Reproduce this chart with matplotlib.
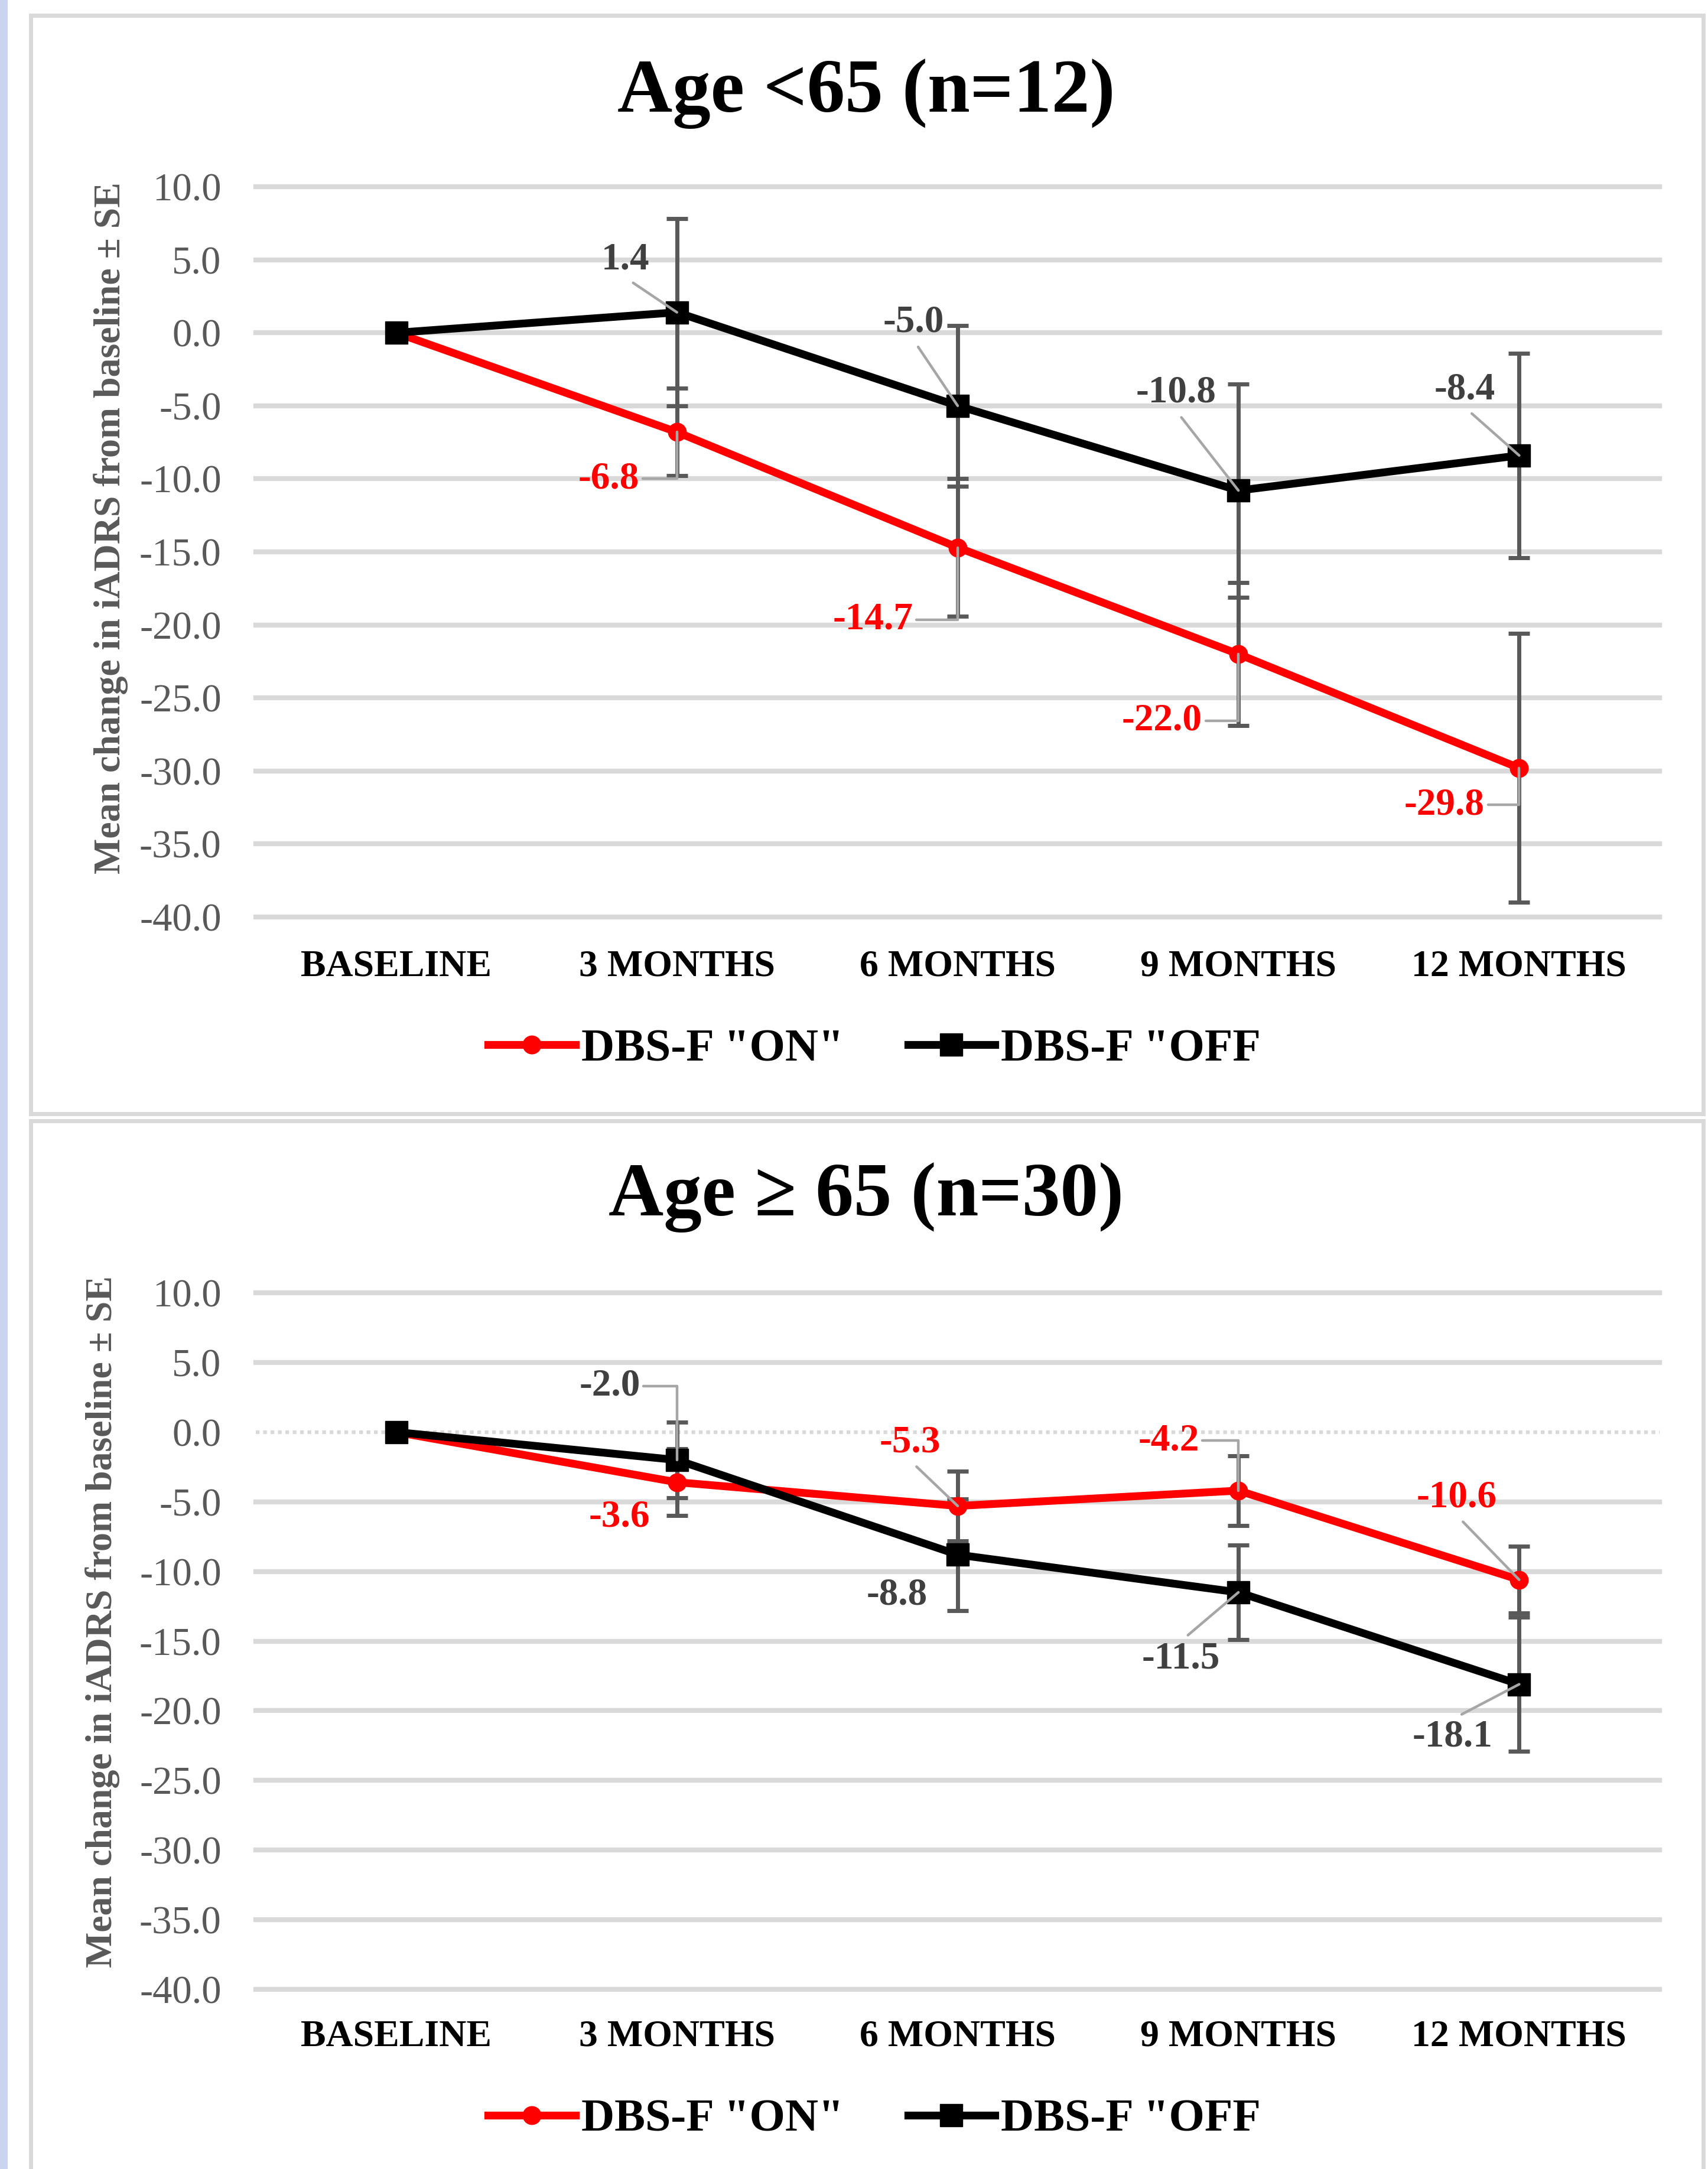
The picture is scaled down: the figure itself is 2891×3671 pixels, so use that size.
import numpy as np
import matplotlib.pyplot as plt
from matplotlib.patches import Rectangle
from matplotlib.ticker import FormatStrFormatter

plt.rcParams['font.family'] = ['Liberation Serif', 'DejaVu Serif']
plt.rcParams['axes.unicode_minus'] = False

# data
categories = ['BASELINE', '3 MONTHS', '6 MONTHS', '9 MONTHS', '12 MONTHS']
y_ticks = [10, 5, 0, -5, -10, -15, -20, -25, -30, -35, -40]

young_on = [0.0, -6.8, -14.7, -22.0, -29.8]
young_on_se = [0.0, 3.0, 4.7, 4.9, 9.2]
young_off = [0.0, 1.4, -5.0, -10.8, -8.4]
young_off_se = [0.0, 6.4, 5.5, 7.3, 7.0]

old_on = [0.0, -3.6, -5.3, -4.2, -10.6]
old_on_se = [0.0, 2.4, 2.5, 2.5, 2.4]
old_off = [0.0, -2.0, -8.8, -11.5, -18.1]
old_off_se = [0.0, 2.7, 4.0, 3.4, 4.8]

legend_labels = ['DBS-F "ON"', 'DBS-F "OFF']

# label placement (offset points from the marker, leader style)
young_on_lbl = [(-83, -57, 'elbow'), (-103, -88, 'elbow'), (-93, -81, 'elbow'), (-91, -45, 'elbow')]
young_off_lbl = [(-63, 64, 'below'), (-54, 102, 'below'), (-76, 119, 'below'), (-66, 80, 'below')]
old_on_lbl = [(-70, -42, 'none'), (-58, 77, 'below'), (-85, 61, 'elbow'), (-76, 100, 'below')]
old_off_lbl = [(-82, 90, 'elbow'), (-74, -49, 'none'), (-70, -81, 'above'), (-81, -64, 'above')]

W, H = 2891, 3671
RED = '#ff0000'
GRID = '#d9d9d9'
ERR = '#595959'
LEAD = '#a6a6a6'

fig = plt.figure(figsize=(W / 100, H / 100), dpi=100)

# screenshot frame: blue strip on the left and the two chart borders
fig.patches.append(Rectangle((0, 0), 13 / W, 1, transform=fig.transFigure,
                             facecolor='#c9d5ee', edgecolor='none', zorder=0))
fig.patches.append(Rectangle((52 / W, 1 - 1885 / H), (2883 - 52) / W, (1885 - 26) / H,
                             transform=fig.transFigure, fill=False,
                             edgecolor=GRID, lw=5, zorder=0))
fig.patches.append(Rectangle((52 / W, 1 - 3720 / H), (2883 - 52) / W, (3720 - 1897) / H,
                             transform=fig.transFigure, fill=False,
                             edgecolor=GRID, lw=5, zorder=0))


def label_points(ax, x, vals, specs, color):
    for i in range(1, len(vals)):
        dx, dy, lead = specs[i - 1]
        props = None
        if lead == 'elbow':
            props = dict(arrowstyle='-', color=LEAD, lw=3.2, relpos=(1, 0.5),
                         connectionstyle='angle,angleA=0,angleB=90,rad=0',
                         shrinkA=2, shrinkB=0)
        elif lead == 'below':
            props = dict(arrowstyle='-', color=LEAD, lw=3.2, relpos=(0.5, 0),
                         shrinkA=8, shrinkB=0)
        elif lead == 'above':
            props = dict(arrowstyle='-', color=LEAD, lw=3.2, relpos=(0.5, 1),
                         shrinkA=8, shrinkB=0)
        ax.annotate('%.1f' % vals[i], xy=(x[i], vals[i]), xytext=(dx, dy),
                    textcoords='offset points', ha='center', va='center',
                    fontsize=47, fontweight='bold', color=color,
                    arrowprops=props, zorder=6, annotation_clip=False)


def draw_panel(top_px, bot_px, title, title_px, on, on_se, off, off_se,
               on_lbl, off_lbl, legend_px, ylab_xy, dotted_zero, xpad):
    ax = fig.add_axes([433 / W, 1 - bot_px / H, (2809 - 433) / W, (bot_px - top_px) / H])
    x = np.arange(len(categories))

    for t in y_ticks:
        if dotted_zero and t == 0:
            ax.axhline(t, color=GRID, lw=4.5, ls=(0, (1, 1)), zorder=1, clip_on=False)
        else:
            ax.axhline(t, color=GRID, lw=6, zorder=1, clip_on=False)

    # error bars sit under the series lines, like in the Excel original
    ax.errorbar(x[1:], on[1:], yerr=on_se[1:], fmt='none', ecolor=ERR,
                elinewidth=5, capsize=13, capthick=5, zorder=2)
    ax.errorbar(x[1:], off[1:], yerr=off_se[1:], fmt='none', ecolor=ERR,
                elinewidth=5, capsize=13, capthick=5, zorder=2)

    l_on, = ax.plot(x, on, color=RED, lw=9.5, marker='o', ms=22,
                    markerfacecolor=RED, markeredgecolor=RED, zorder=3)
    l_off, = ax.plot(x, off, color='black', lw=9.5, marker='s', ms=28,
                     markerfacecolor='black', markeredgecolor='black', zorder=3.5)

    label_points(ax, x, on, on_lbl, RED)
    label_points(ax, x, off, off_lbl, '#404040')

    ax.set_xlim(-0.5, len(categories) - 0.5)
    ax.set_ylim(-40, 10)
    ax.set_yticks(y_ticks)
    ax.yaxis.set_major_formatter(FormatStrFormatter('%.1f'))
    ax.set_xticks(x)
    ax.set_xticklabels(categories, fontsize=46, fontweight='bold', color='black')
    ax.tick_params(axis='y', length=0, pad=42, labelsize=48, labelcolor=ERR)
    ax.tick_params(axis='x', length=0, pad=xpad)
    for s in ax.spines.values():
        s.set_visible(False)

    ax.set_ylabel('Mean change in iADRS from baseline ± SE', fontsize=46,
                  fontweight='bold', color=ERR)
    ax.yaxis.set_label_coords(*ylab_xy)

    fig.text(1466 / W, 1 - title_px / H, title, ha='center', va='center',
             fontsize=93, fontweight='bold', color='black')

    fig.legend([l_on, l_off], legend_labels, loc='center', ncol=2,
               bbox_to_anchor=(1480 / W, 1 - legend_px / H), frameon=False,
               prop=dict(size=56, weight='bold'), handlelength=1.9,
               handletextpad=0.12, columnspacing=1.4)
    return ax


draw_panel(316, 1552, 'Age <65 (n=12)', 159, young_on, young_on_se,
           young_off, young_off_se, young_on_lbl, young_off_lbl,
           1777, (-0.091, 0.533), False, 40)
draw_panel(2188, 3367, 'Age ≥ 65 (n=30)', 2027, old_on, old_on_se,
           old_off, old_off_se, old_on_lbl, old_off_lbl,
           3588, (-0.097, 0.528), True, 37)

fig.savefig('out.png', dpi=100)
